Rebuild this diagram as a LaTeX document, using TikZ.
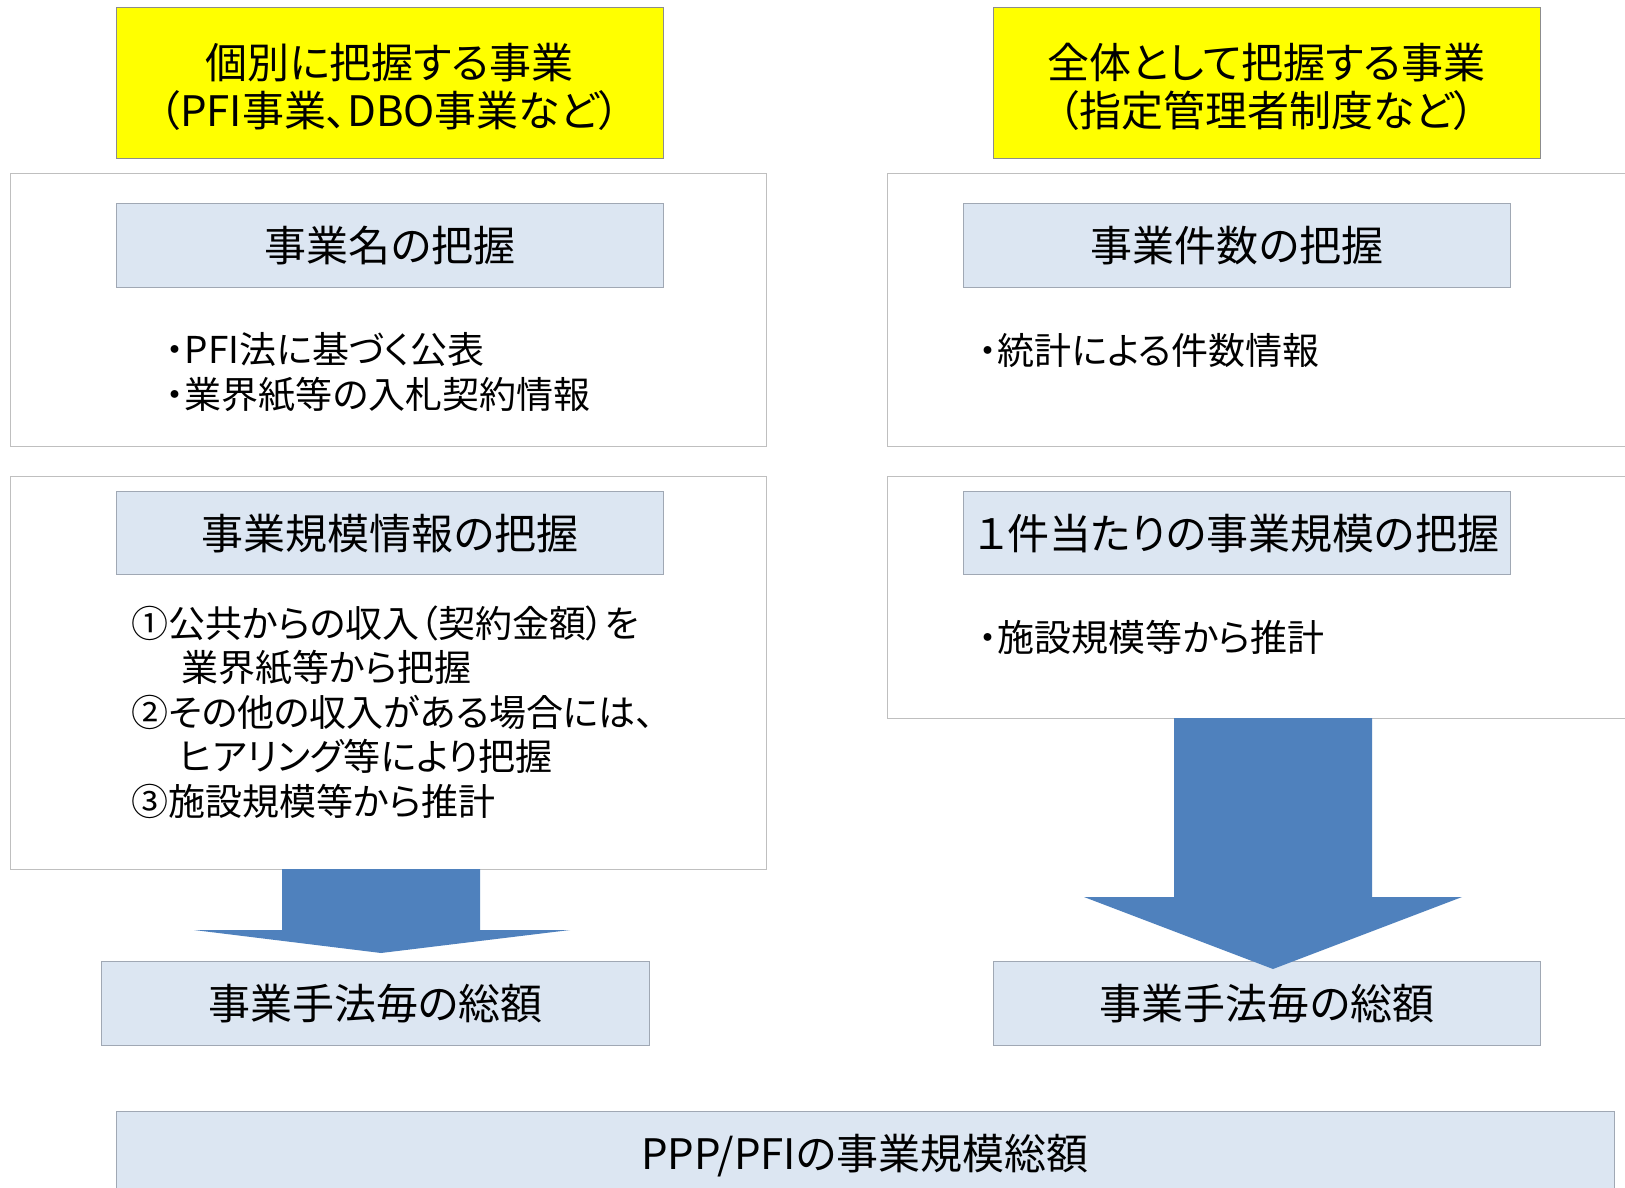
\documentclass[tikz,border=0pt]{standalone}
\usepackage{fontspec}
\newfontfamily\jpfont[RawFeature=+palt]{Noto Sans CJK JP}
\definecolor{hdrfill}{HTML}{DCE6F2}
\definecolor{arrowblue}{HTML}{4F81BD}
\definecolor{outerline}{HTML}{BFBFBF}
\definecolor{hdrline}{HTML}{A0A8B4}
\definecolor{ylwline}{HTML}{8C8C8C}
\definecolor{ylwfill}{HTML}{FFFF00}
\begin{document}
\begin{tikzpicture}[x=1pt,y=-1pt,
  ybox/.style={draw=ylwline, fill=ylwfill, line width=1pt, anchor=north west, inner sep=0},
  obox/.style={draw=outerline, fill=white, line width=1.2pt, anchor=north west, inner sep=0},
  hbox/.style={draw=hdrline, fill=hdrfill, line width=1.2pt, anchor=north west, inner sep=0},
  ttl/.style={font=\jpfont\fontsize{42}{48}\selectfont, align=center, inner sep=0},
  body/.style={font=\jpfont\fontsize{37}{44.5}\selectfont, align=left, anchor=west, inner sep=0},
  barrow/.style={fill=arrowblue, draw=none}]
\useasboundingbox (0,0) rectangle (1625,1188);
\clip (0,0) rectangle (1625,1188);
\fill[white] (0,0) rectangle (1625,1188);

% yellow title boxes
\node[ybox, minimum width=547pt, minimum height=151pt] (yL) at (116,7) {};
\node[ttl] (yLt) at (389.5,87) {個別に把握する事業\\（PFI事業、DBO事業など）};
\node[ybox, minimum width=547pt, minimum height=151pt] (yR) at (993,7) {};
\node[ttl] (yRt) at (1266.5,87) {全体として把握する事業\\（指定管理者制度など）};

% outer boxes
\node[obox, minimum width=756pt, minimum height=273pt] (oL1) at (10,173) {};
\node[obox, minimum width=760pt, minimum height=273pt] (oR1) at (887,173) {};
\node[obox, minimum width=756pt, minimum height=393pt] (oL2) at (10,476) {};
\node[obox, minimum width=760pt, minimum height=242pt] (oR2) at (887,476) {};

% header boxes
\node[hbox, minimum width=547pt, minimum height=84pt] (hL1) at (116,203) {};
\node[ttl] at (hL1.center) {事業名の把握};
\node[hbox, minimum width=547pt, minimum height=84pt] (hR1) at (963,203) {};
\node[ttl] at (hR1.center) {事業件数の把握};
\node[hbox, minimum width=547pt, minimum height=83pt] (hL2) at (116,491) {};
\node[ttl] at (hL2.center) {事業規模情報の把握};
\node[hbox, minimum width=547pt, minimum height=83pt] (hR2) at (963,491) {};
\node[ttl] at (hR2.center) {１件当たりの事業規模の把握};

% body texts
\node[body] (tL1) at (166,372.5) {・PFI法に基づく公表\\・業界紙等の入札契約情報};
\node[body] (tR1) at (979,350) {・統計による件数情報};
\node[body] (tL2) at (131,712) {①公共からの収入（契約金額）を\\\hspace*{50pt}業界紙等から把握\\②その他の収入がある場合には、\\\hspace*{48pt}ヒアリング等により把握\\③施設規模等から推計};
\node[body] (tR2) at (979,637) {・施設規模等から推計};

% result boxes
\node[hbox, minimum width=548pt, minimum height=84pt] (bL) at (101,961) {};
\node[ttl] at (bL.center) {事業手法毎の総額};
\node[hbox, minimum width=547pt, minimum height=84pt] (bR) at (993,961) {};
\node[ttl] at (bR.center) {事業手法毎の総額};

% block arrows
\fill[barrow] (282,869) -- (480,869) -- (480,930) -- (570,930) -- (381,953)
  -- (194,930) -- (282,930) -- cycle;
\fill[barrow] (1174,718) -- (1372,718) -- (1372,897) -- (1462,897) -- (1273,969)
  -- (1084,897) -- (1174,897) -- cycle;

% total box
\node[hbox, minimum width=1498pt, minimum height=100pt] (tot) at (116,1111) {};
\node[ttl] at (865,1156) {PPP/PFIの事業規模総額};
\end{tikzpicture}
\end{document}
